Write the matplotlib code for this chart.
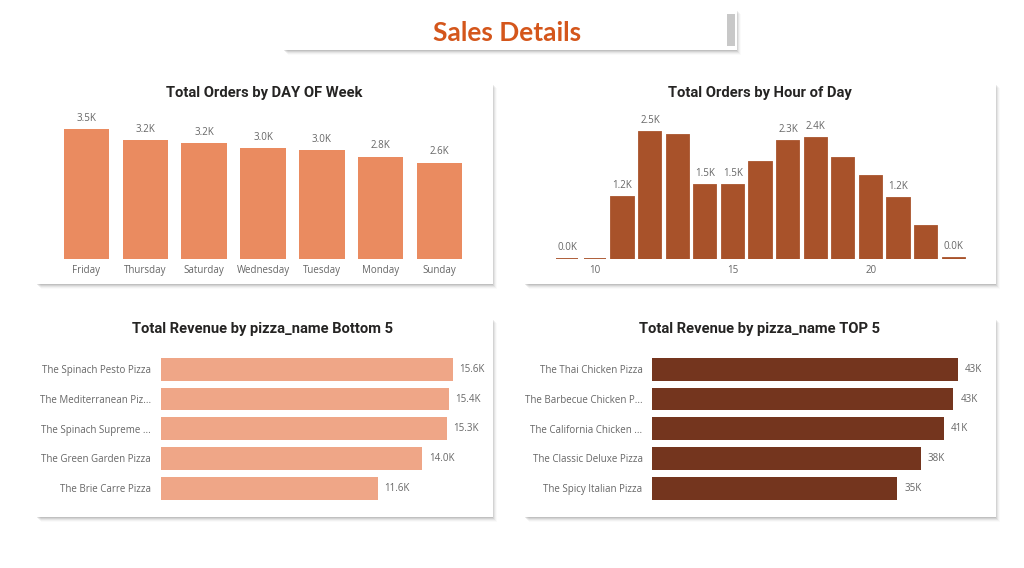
import numpy as np
import matplotlib
matplotlib.use("Agg")
import matplotlib.pyplot as plt
from matplotlib.patches import Rectangle

W, H = 1024, 568

days = ["Friday", "Thursday", "Saturday", "Wednesday", "Tuesday", "Monday", "Sunday"]
day_orders = [3538, 3239, 3158, 3024, 2973, 2794, 2624]

hours = list(range(9, 24))
hour_orders = [1, 8, 1231, 2520, 2455, 1472, 1468, 1920, 2336, 2399, 2009, 1642, 1198, 663, 28]
hour_show = [1, 0, 1, 1, 0, 1, 1, 0, 1, 1, 0, 0, 1, 0, 1]   # labels power bi kept visible
hour_ticks = [10, 15, 20]

bottom_names = ["The Spinach Pesto Pizza", "The Mediterranean Piz...", "The Spinach Supreme ...",
                "The Green Garden Pizza", "The Brie Carre Pizza"]
bottom_rev = [15596.0, 15360.5, 15277.75, 13955.75, 11588.5]

top_names = ["The Thai Chicken Pizza", "The Barbecue Chicken P...", "The California Chicken ...",
             "The Classic Deluxe Pizza", "The Spicy Italian Pizza"]
top_rev = [43434.25, 42768.0, 41409.5, 38180.5, 34831.25]

c_day = "#EA8B60"
c_hour = "#A8522A"
c_bottom = "#EFA687"
c_top = "#74351E"
c_title = "#D4561B"
c_text = "#252423"
c_lab = "#666666"

fig = plt.figure(figsize=(W / 100, H / 100), dpi=100)
fig.patch.set_facecolor("white")


def fx(x):
    return x / W


def fy(y):
    return 1 - y / H


def card(x0, y0, x1, y1):
    # blurred-ish drop shadow then the white card
    for i, a in enumerate([0.09, 0.07, 0.05, 0.035, 0.02]):
        off = i + 1
        fig.patches.append(Rectangle((fx(x0 + off - 1), fy(y1 + off)), (x1 - x0) / W, (y1 - y0) / H,
                                     transform=fig.transFigure, color="black", alpha=a,
                                     lw=0, zorder=0))
    fig.patches.append(Rectangle((fx(x0), fy(y1)), (x1 - x0) / W, (y1 - y0) / H,
                                 transform=fig.transFigure, color="white", lw=0, zorder=1))


def make_ax(x0, y0, x1, y1):
    ax = fig.add_axes([fx(x0), fy(y1), (x1 - x0) / W, (y1 - y0) / H])
    ax.set_zorder(5)
    ax.patch.set_alpha(0)
    for s in ax.spines.values():
        s.set_visible(False)
    return ax


# cards
card(284, 9, 737, 50)
card(37, 83, 493, 284)
card(525, 83, 996, 284)
card(37, 318, 493, 517)
card(525, 318, 996, 517)

# scrollbar on the title card
fig.patches.append(Rectangle((fx(727), fy(46)), 8 / W, 32 / H, transform=fig.transFigure,
                             color="#C8C8C8", lw=0, zorder=2))
fig.text(fx(507), fy(33), "Sales Details", ha="center", va="center", fontsize=19,
         fontweight="bold", color=c_title, family="Lato", zorder=3)

title_kw = dict(ha="center", va="center", fontsize=10.6, fontweight="bold", color=c_text,
                family="Roboto", zorder=6)
fig.text(fx(264), fy(92.5), "Total Orders by DAY OF Week", **title_kw)
fig.text(fx(760), fy(92.5), "Total Orders by Hour of Day", **title_kw)
fig.text(fx(263), fy(329), "Total Revenue by pizza_name Bottom 5", **title_kw)
fig.text(fx(760), fy(329), "Total Revenue by pizza_name TOP 5", **title_kw)

lab_kw = dict(fontsize=7, color=c_lab, family="Open Sans")

# orders by day of week
ax1 = make_ax(57, 110, 469, 259)
x = np.arange(len(days))
ax1.bar(x, day_orders, width=0.77, color=c_day)
ax1.set_xlim(-0.5, len(days) - 0.5)
ax1.set_ylim(0, 4070)
ax1.set_yticks([])
ax1.set_xticks(x)
ax1.set_xticklabels(days, **lab_kw)
ax1.tick_params(axis="x", length=0, pad=4)
for xi, v in zip(x, day_orders):
    ax1.text(xi, v + 150, f"{v / 1000:.1f}K", ha="center", va="bottom", **lab_kw)

# orders by hour
ax2 = make_ax(553.5, 110, 967.5, 259)
ax2.bar(hours, hour_orders, width=0.8, color=c_hour, edgecolor=c_hour, linewidth=1.3)
ax2.set_xlim(hours[0] - 0.5, hours[-1] + 0.5)
ax2.set_ylim(0, 2950)
ax2.set_yticks([])
ax2.set_xticks(hour_ticks)
ax2.set_xticklabels([str(h) for h in hour_ticks], **lab_kw)
ax2.tick_params(axis="x", length=0, pad=4)
for h, v, s in zip(hours, hour_orders, hour_show):
    if s:
        ax2.text(h, v + 120, f"{v / 1000:.1f}K", ha="center", va="bottom", **lab_kw)

# bottom 5 revenue
ax3 = make_ax(160.7, 354.4, 490, 503.1)
y = np.arange(len(bottom_names))
ax3.barh(y, bottom_rev, height=0.76, color=c_bottom)
ax3.set_xlim(0, 17570)
ax3.set_ylim(len(y) - 0.5, -0.5)
ax3.set_xticks([])
ax3.set_yticks(y)
ax3.set_yticklabels(bottom_names, **lab_kw)
ax3.tick_params(axis="y", length=0, pad=7)
for yi, v in zip(y, bottom_rev):
    ax3.text(v + 350, yi, f"{v / 1000:.1f}K", ha="left", va="center", **lab_kw)

# top 5 revenue
ax4 = make_ax(652.3, 354.4, 995, 503.1)
ax4.barh(y, top_rev, height=0.76, color=c_top)
ax4.set_xlim(0, 48700)
ax4.set_ylim(len(y) - 0.5, -0.5)
ax4.set_xticks([])
ax4.set_yticks(y)
ax4.set_yticklabels(top_names, **lab_kw)
ax4.tick_params(axis="y", length=0, pad=7)
for yi, v in zip(y, top_rev):
    ax4.text(v + 1000, yi, f"{v / 1000:.0f}K", ha="left", va="center", **lab_kw)

fig.savefig("out.png", dpi=100, facecolor="white")
